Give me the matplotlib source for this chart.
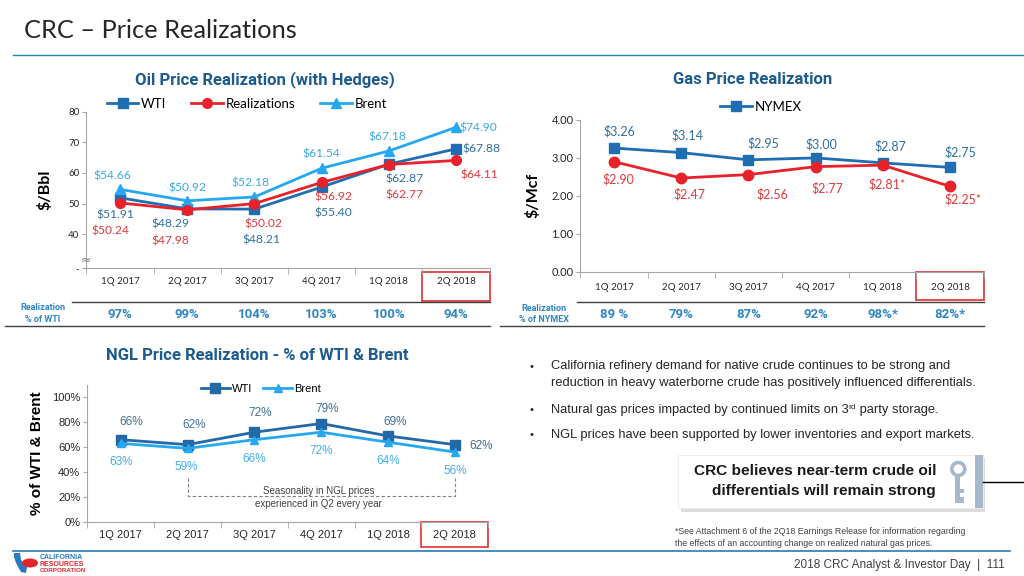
import matplotlib
matplotlib.use('Agg')
import matplotlib.pyplot as plt
import matplotlib.patches as mpatches
import matplotlib.transforms as mtransforms
from matplotlib.lines import Line2D
import numpy as np

# ---- data ----
quarters = ['1Q 2017', '2Q 2017', '3Q 2017', '4Q 2017', '1Q 2018', '2Q 2018']

oil_wti = [51.91, 48.29, 48.21, 55.40, 62.87, 67.88]
oil_real = [50.24, 47.98, 50.02, 56.92, 62.77, 64.11]
oil_brent = [54.66, 50.92, 52.18, 61.54, 67.18, 74.90]
oil_pct = ['97%', '99%', '104%', '103%', '100%', '94%']

gas_nymex = [3.26, 3.14, 2.95, 3.00, 2.87, 2.75]
gas_real = [2.90, 2.47, 2.56, 2.77, 2.81, 2.25]
gas_star = ['', '', '', '', '*', '*']
gas_pct = ['89 %', '79%', '87%', '92%', '98%*', '82%*']

ngl_wti = [66, 62, 72, 79, 69, 62]
ngl_brent = [63, 59, 66, 72, 64, 56]

# each bullet: list of lines, each line a list of (text, is_superscript)
bullets = [
    [[('California refinery demand for native crude continues to be strong and', False)],
     [('reduction in heavy waterborne crude has positively influenced differentials.', False)]],
    [[('Natural gas prices impacted by continued limits on 3', False), ('rd', True),
      (' party storage.', False)]],
    [[('NGL prices have been supported by lower inventories and export markets.', False)]],
]

# label offsets in pixels (dx, dy)
oil_brent_off = [(-8, 13), (0, 12.5), (-4, 14), (0, 14), (-1, 14), (22, -1)]
oil_wti_off = [(-5, -17), (-17, -15), (7, -31), (12, -25.5), (15.5, -15), (25.5, 0)]
oil_real_off = [(-10, -28), (-17, -31), (9, -20), (12, -15), (15.5, -30.5), (23, -14.6)]
gas_nymex_off = [(5, 17), (6, 17.5), (15, 17), (6, 14), (8, 17), (10, 15)]
gas_real_off = [(4, -18), (8, -16), (24, -20), (12, -22), (4.5, -19), (13, -13)]
ngl_wti_off = [(10, 17.6), (7, 20), (6, 19), (6, 14.4), (7, 14), (26.7, -1)]
ngl_brent_off = [(0, -19), (-1, -19), (0, -19), (0, -19), (0, -19), (0, -19)]

# ---- colours / fonts ----
c_wti = '#1f6db2'
c_brent = '#25a8f0'
c_real = '#e8212a'
c_wti_lbl = '#2f6f9f'
c_brent_lbl = '#3aa9e6'
c_real_lbl = '#e0393e'
c_title = '#1d5b8f'
c_pct = '#2f86c6'
grey = '#a6a6a6'

f_cal = 'Lato'
f_ar = 'Liberation Sans'
f_bold = ['Liberation Sans Narrow', 'Roboto']

W, H = 1024, 576
fig = plt.figure(figsize=(W / 100, H / 100), dpi=100)
T = mtransforms.Affine2D().scale(1 / W, -1 / H).translate(0, 1) + fig.transFigure


def add_ax(x0, y0, x1, y1):
    return fig.add_axes([x0 / W, 1 - y1 / H, (x1 - x0) / W, (y1 - y0) / H])


def hline(x0, x1, y, color, lw=1.0):
    fig.add_artist(Line2D([x0, x1], [y, y], transform=T, color=color, lw=lw))


def txt(x, y, s, **kw):
    kw.setdefault('va', 'center')
    return fig.text(x, y, s, transform=T, **kw)


def style(ax, pad, lsize, lfont):
    for s in ['top', 'right']:
        ax.spines[s].set_visible(False)
    for s in ['left', 'bottom']:
        ax.spines[s].set_color(grey)
        ax.spines[s].set_linewidth(0.8)
    ax.set_xlim(-0.5, 5.5)
    ax.set_xticks(range(6))
    ax.set_xticklabels(quarters, fontsize=lsize, family=lfont, color='#262626')
    ax.set_xticks(np.arange(-0.5, 6, 1), minor=True)
    ax.tick_params(axis='x', which='major', length=0, pad=pad)
    ax.tick_params(axis='x', which='minor', length=4, color=grey)
    ax.tick_params(axis='y', length=3, color=grey, pad=2)
    ax.patch.set_alpha(0)


def labels(ax, vals, offs, fmt, color, size, font):
    for i, v in enumerate(vals):
        ax.annotate(fmt(i, v), (i, v), xytext=offs[i], textcoords='offset pixels',
                    ha='center', va='center', color=color, fontsize=size,
                    family=font, annotation_clip=False)


def red_box(ax, y0, y1):
    bt = mtransforms.blended_transform_factory(ax.transData, T)
    ax.add_artist(mpatches.Rectangle((4.5, y0), 1, y1 - y0, transform=bt, fill=False,
                                     edgecolor='#e03030', lw=1.2, clip_on=False))


def pct_row(ax, y, vals):
    bt = mtransforms.blended_transform_factory(ax.transData, T)
    for i, s in enumerate(vals):
        ax.text(i, y, s, transform=bt, ha='center', va='center', color=c_pct,
                fontsize=9.5, family=f_bold, weight='bold')


# ---- slide title ----
txt(24, 31, 'CRC \u2013 Price Realizations', fontsize=18.3, family=f_cal, color='#262626')
hline(13, 1024, 55, '#1f86a8', 1.0)

# ---- oil chart ----
ax = add_ax(86.4, 111.7, 489.6, 268.3)
style(ax, 6, 7, f_cal)
ax.set_ylim(28.9, 80)
ax.set_yticks([28.9, 40, 50, 60, 70, 80])
ax.set_yticklabels(['-', '40', '50', '60', '70', '80'], fontsize=7, family=f_cal, color='#262626')
x = np.arange(6)
l1, = ax.plot(x, oil_wti, color=c_wti, marker='s', ms=7, lw=2, label='WTI', clip_on=False, zorder=3)
l3, = ax.plot(x, oil_brent, color=c_brent, marker='^', ms=7.5, lw=2, label='Brent', clip_on=False, zorder=3)
l2, = ax.plot(x, oil_real, color=c_real, marker='o', ms=7, lw=2, label='Realizations', clip_on=False, zorder=4)
money = lambda i, v: '\\$%.2f' % v
labels(ax, oil_brent, oil_brent_off, money, c_brent_lbl, 8.7, f_cal)
labels(ax, oil_wti, oil_wti_off, money, c_wti_lbl, 8.7, f_cal)
labels(ax, oil_real, oil_real_off, money, c_real_lbl, 8.7, f_cal)
ax.text(-0.5, 31.5, '\u2248', ha='center', va='center', fontsize=9, color='#808080',
        family='DejaVu Sans')
fig.legend(handles=[l1, l2, l3], loc='center', bbox_to_anchor=(247 / W, 1 - 104 / H),
           ncol=3, frameon=False, handlelength=2.4, columnspacing=1.9, handletextpad=0.2,
           prop={'family': f_cal, 'size': 9.5})
ax.set_ylabel('$/Bbl', fontsize=11.5, weight='bold', family=f_cal, labelpad=11)
txt(265, 80, 'Oil Price Realization (with Hedges)', ha='center', fontsize=12,
    family=f_bold, weight='bold', color=c_title)
red_box(ax, 272.3, 300.7)
hline(72, 490, 302.3, '#404040', 1.0)
hline(5, 490, 326, '#404040', 1.0)
txt(43, 308, 'Realization', ha='center', fontsize=6.5, family=f_bold, weight='bold', color=c_pct)
txt(43, 320, '% of WTI', ha='center', fontsize=6.5, family=f_bold, weight='bold', color=c_pct)
pct_row(ax, 315, oil_pct)

# ---- gas chart ----
ax = add_ax(580.4, 120, 983.6, 271.7)
style(ax, 8, 7, f_cal)
ax.set_ylim(0, 4)
ax.set_yticks([0, 1, 2, 3, 4])
ax.set_yticklabels(['%.2f' % t for t in [0, 1, 2, 3, 4]], fontsize=8, family=f_cal, color='#262626')
g1, = ax.plot(x, gas_nymex, color=c_wti, marker='s', ms=7, lw=2, label='NYMEX', clip_on=False, zorder=3)
ax.plot(x, gas_real, color=c_real, marker='o', ms=7.5, lw=2, clip_on=False, zorder=4)
labels(ax, gas_nymex, gas_nymex_off, money, c_wti_lbl, 9, f_cal)
labels(ax, gas_real, gas_real_off, lambda i, v: '\\$%.2f%s' % (v, gas_star[i]),
       c_real_lbl, 9, f_cal)
fig.legend(handles=[g1], loc='center', bbox_to_anchor=(761 / W, 1 - 106.7 / H),
           frameon=False, handlelength=2.4, handletextpad=0.2,
           prop={'family': f_cal, 'size': 9.5})
ax.set_ylabel('$/Mcf', fontsize=11.5, weight='bold', family=f_cal, labelpad=8)
txt(753, 80, 'Gas Price Realization', ha='center', fontsize=12,
    family=f_bold, weight='bold', color=c_title)
red_box(ax, 271.7, 300)
hline(577, 984, 302.3, '#404040', 1.0)
hline(500, 984, 325.7, '#404040', 1.0)
txt(544, 308.3, 'Realization', ha='center', fontsize=6.5, family=f_bold, weight='bold', color=c_pct)
txt(544, 320, '% of NYMEX', ha='center', fontsize=6.5, family=f_bold, weight='bold', color=c_pct)
pct_row(ax, 315, gas_pct)

# ---- NGL chart ----
ax = add_ax(87.3, 385, 488.3, 521.7)
style(ax, 6, 8, f_ar)
ax.set_ylim(0, 110)
ax.set_yticks(range(0, 101, 20))
ax.set_yticklabels(['%d%%' % t for t in range(0, 101, 20)], fontsize=8, family=f_ar, color='#262626')
n1, = ax.plot(x, ngl_wti, color='#2369a8', marker='s', ms=7, lw=2, label='WTI', clip_on=False, zorder=3)
n2, = ax.plot(x, ngl_brent, color=c_brent, marker='^', ms=6, lw=2, label='Brent', clip_on=False, zorder=3)
pct = lambda i, v: '%d%%' % v
labels(ax, ngl_wti, ngl_wti_off, pct, '#3f6f95', 8.5, f_ar)
labels(ax, ngl_brent, ngl_brent_off, pct, '#45aee8', 8.5, f_ar)
ax.plot([1, 1, 5, 5], [35, 21, 21, 35], ls=(0, (3, 2)), color='#808080', lw=0.8, clip_on=False)
ax.text(2.96, 25, 'Seasonality in NGL prices', ha='center', va='center', fontsize=7,
        family=f_ar, color='#404040')
ax.text(2.96, 14, 'experienced in Q2 every year', ha='center', va='center', fontsize=7,
        family=f_ar, color='#404040')
fig.legend(handles=[n1, n2], loc='center', bbox_to_anchor=(261 / W, 1 - 389 / H), ncol=2,
           frameon=False, handlelength=2.6, columnspacing=1.0, handletextpad=0.2,
           prop={'family': f_ar, 'size': 8})
ax.set_ylabel('% of WTI & Brent', fontsize=11, weight='bold', family=f_ar, labelpad=6)
txt(257, 355, 'NGL Price Realization - % of WTI & Brent', ha='center', fontsize=12,
    family=f_bold, weight='bold', color=c_title)
red_box(ax, 521.7, 546.7)

# ---- bullets ----
renderer = fig.canvas.get_renderer()
by = [366, 409.3, 434.3]
for y0, lines in zip(by, bullets):
    txt(530, y0 + 3.5, '\u2022', fontsize=8, family=f_ar, color='#262626', va='baseline')
    for k, parts in enumerate(lines):
        xc = 550.7
        yb = y0 + k * 16.3 + 3.5
        for s, sup in parts:
            t = txt(xc, yb - (4 if sup else 0), s, fontsize=6 if sup else 9.3,
                    family=f_ar, color='#262626', va='baseline')
            xc += t.get_window_extent(renderer).width

# ---- callout ----
fig.add_artist(mpatches.Rectangle((681, 458), 304, 54, transform=T, color='#dcdcdc', lw=0))
fig.add_artist(mpatches.Rectangle((678.3, 455), 304.4, 53.3, transform=T, facecolor='white',
                                  edgecolor='#ebebeb', lw=0.6))
fig.add_artist(mpatches.Rectangle((975, 455), 7.7, 53.3, transform=T, color='#a8b8cc', lw=0))
hline(982.7, 1024, 481.7, '#000000', 1.0)
key = '#a8b8cc'
fig.add_artist(mpatches.Circle((958.3, 469), 6.5, transform=T, fill=False, edgecolor=key, lw=2.6))
fig.add_artist(mpatches.Rectangle((954.5, 475), 5, 28, transform=T, color=key, lw=0))
fig.add_artist(mpatches.Rectangle((959, 489), 5, 4, transform=T, color=key, lw=0))
fig.add_artist(mpatches.Rectangle((959, 497), 5, 6, transform=T, color=key, lw=0))
txt(936, 470.7, 'CRC believes near-term crude oil', ha='right', fontsize=11.1,
    family=f_ar, weight='bold', color='#1a1a1a')
txt(936, 490.7, 'differentials will remain strong', ha='right', fontsize=11.1,
    family=f_ar, weight='bold', color='#1a1a1a')

# ---- footnote / footer ----
txt(675, 531.7, '*See Attachment 6 of the 2Q18 Earnings Release for information regarding',
    fontsize=6.3, family=f_ar, color='#404040')
txt(675, 543.3, 'the effects of an accounting change on realized natural gas prices.',
    fontsize=6.3, family=f_ar, color='#404040')
hline(13, 1010, 550.5, '#2a7ab0', 1.2)
txt(1005, 565, '2018 CRC Analyst & Investor Day  |  111', ha='right', fontsize=8.5,
    family=f_ar, color='#404040')

# ---- logo ----
fig.add_artist(mpatches.Polygon([(14, 553), (20, 553), (21, 560), (27, 567), (26, 573),
                                 (21, 572), (16, 563), (14, 557)], closed=True,
                                transform=T, color='#2a7ac0', lw=0))
fig.add_artist(mpatches.Ellipse((30, 563), 16, 9, transform=T, color='#e4232b', lw=0))
txt(40, 557.3, 'CALIFORNIA', fontsize=5, family=f_ar, weight='bold', color='#2a7ac0')
txt(40, 564, 'RESOURCES', fontsize=5, family=f_ar, weight='bold', color='#e4232b')
txt(40, 570.7, 'CORPORATION', fontsize=4.5, family=f_ar, weight='bold', color='#e4232b')

fig.savefig('out.png', dpi=100)
